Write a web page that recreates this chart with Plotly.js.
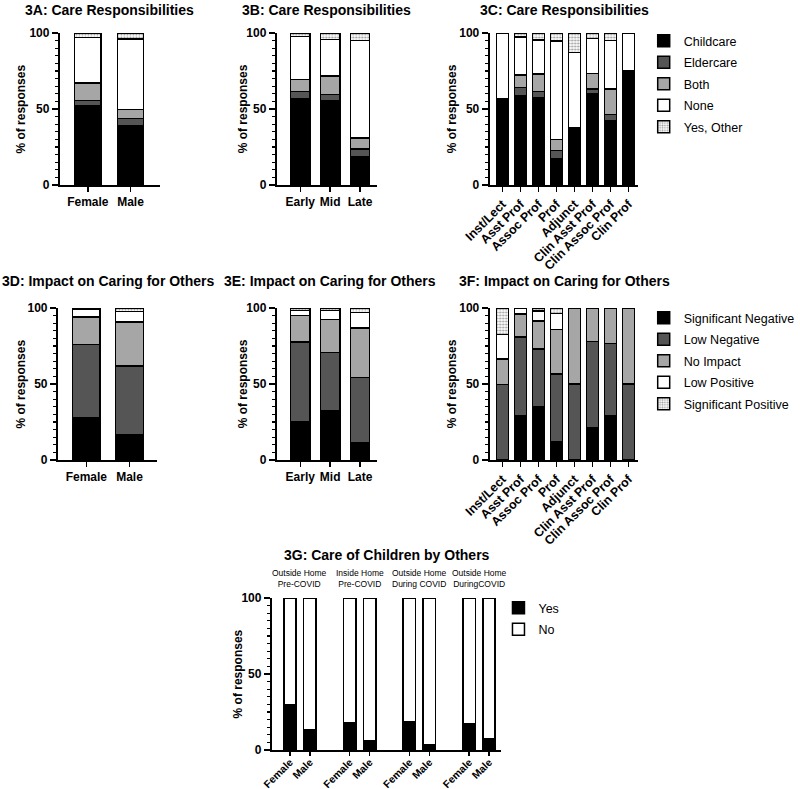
<!DOCTYPE html>
<html>
<head>
<meta charset="utf-8">
<script src="https://cdn.plot.ly/plotly-3.0.1.min.js"></script>
<style>
  body { margin: 0; background: #fff; }
  #chart { width: 800px; height: 789px; }
</style>
</head>
<body>
<div id="chart"></div>
<script>
// categories
var careNames = ['Childcare', 'Eldercare', 'Both', 'None', 'Yes, Other'];
var impactNames = ['Significant Negative', 'Low Negative', 'No Impact', 'Low Positive', 'Significant Positive'];
var sexCats = ['Female', 'Male'];
var stageCats = ['Early', 'Mid', 'Late'];
var rankCats = ['Inst/Lect', 'Asst Prof', 'Assoc Prof', 'Prof', 'Adjunct', 'Clin Asst Prof', 'Clin Assoc Prof', 'Clin Prof'];
var childGroups = ['Outside Home<br>Pre-COVID', 'Inside Home<br>Pre-COVID', 'Outside Home<br>During COVID', 'Outside Home<br>DuringCOVID'];

// % of responses, one row per series (bottom of the stack first)
var care3A = [
    [52, 39],
    [3.5, 4.6],
    [11.5, 6.2],
    [30, 46.2],
    [3, 4]
];
var care3B = [
    [57, 55.5, 18.6],
    [4.4, 4.1, 5.1],
    [7.9, 12.1, 7.3],
    [28.3, 23.9, 64],
    [2.4, 4.4, 5]
];
var care3C = [
    [57, 58.5, 57.7, 17.6, 37.5, 60, 42, 75],
    [0, 5.5, 3.9, 5, 0, 3, 4.5, 0],
    [0, 8.4, 11.4, 7.4, 0, 10.5, 16.5, 0],
    [43, 25, 22.4, 64.7, 49.8, 23, 32, 25],
    [0, 2.6, 4.6, 5.3, 12.7, 3.5, 5, 0]
];
var impact3D = [
    [28, 16.6],
    [48, 45.3],
    [18, 28.9],
    [5.2, 7],
    [0.8, 2.2]
];
var impact3E = [
    [25, 32.6, 11.3],
    [52.6, 38.1, 43],
    [17.4, 21.7, 32.7],
    [3.3, 5.9, 10.2],
    [1.7, 1.7, 2.8]
];
var impact3F = [
    [0, 29, 35, 12, 0, 21.2, 29, 0],
    [49.7, 52, 37.9, 44.5, 50, 56.9, 47.5, 50],
    [16.6, 15, 18.6, 29.5, 50, 21.9, 23.5, 50],
    [16.2, 4, 6.5, 10.5, 0, 0, 0, 0],
    [17.5, 0, 2, 3.5, 0, 0, 0, 0]
];
// 3G: bars in order Female, Male for each group
var childYes = [29.5, 13.1, 18.2, 6.1, 18.6, 3.3, 17.1, 7.7];
var childNo = [70.5, 86.9, 81.8, 93.9, 81.4, 96.7, 82.9, 92.3];

var FONT = 'Liberation Sans, Arial, Helvetica, sans-serif';
var W = 800, H = 789;
function px(x) { return x / W; }
function py(y) { return 1 - y / H; }

var fills = ['#000000', '#555555', '#a6a6a6', '#ffffff', '#ffffff'];
var dots = {shape: '.', fgcolor: '#9a9a9a', bgcolor: '#ffffff', size: 3, solidity: 0.4};

function stack(rows, names, cats, n, legendName, showLeg, w) {
    return rows.map(function (vals, i) {
        var marker = {color: fills[i], line: {color: 'black', width: 1.5}};
        if (i === 4) marker.pattern = dots;
        return {
            type: 'bar', x: cats,
            y: vals.map(function (v) { return v === 0 ? null : v; }),
            name: names[i], xaxis: 'x' + n, yaxis: 'y' + n, width: w,
            marker: marker, showlegend: showLeg, legend: legendName,
            legendgroup: legendName + '_' + i, cliponaxis: false, hoverinfo: 'skip'
        };
    });
}

var data = [].concat(
    stack(care3A, careNames, sexCats, '', 'legend', false, 0.62),
    stack(care3B, careNames, stageCats, '2', 'legend', false, 0.64),
    stack(care3C, careNames, rankCats, '3', 'legend', true, 0.65),
    stack(impact3D, impactNames, sexCats, '4', 'legend2', false, 0.64),
    stack(impact3E, impactNames, stageCats, '5', 'legend2', false, 0.64),
    stack(impact3F, impactNames, rankCats, '6', 'legend2', true, 0.65)
);

// 3G positions: three slots per group, Female then Male
var gPos = [], gText = [];
childGroups.forEach(function (g, gi) {
    sexCats.forEach(function (s, si) {
        gPos.push(gi * 3 + si);
        gText.push(s);
    });
});
data.push({
    type: 'bar', x: gPos, y: childYes, name: 'Yes', xaxis: 'x7', yaxis: 'y7', width: 0.62,
    marker: {color: '#000000', line: {color: 'black', width: 1.5}},
    legend: 'legend3', legendgroup: 'g0', cliponaxis: false, hoverinfo: 'skip'
});
data.push({
    type: 'bar', x: gPos, y: childNo, name: 'No', xaxis: 'x7', yaxis: 'y7', width: 0.62,
    marker: {color: '#ffffff', line: {color: 'black', width: 1.5}},
    legend: 'legend3', legendgroup: 'g1', cliponaxis: false, hoverinfo: 'skip'
});

function yAx(top, bottom, anchor) {
    return {
        domain: [py(bottom), py(top)], anchor: anchor, range: [0, 100],
        tickvals: [0, 50, 100], ticks: 'outside', ticklen: 6, tickwidth: 1.5, tickcolor: 'black',
        showline: true, linewidth: 2, linecolor: 'black', showgrid: false, zeroline: false,
        tickfont: {family: FONT, size: 12, weight: 'bold', color: 'black'},
        minor: {tick0: 0, dtick: 5, ticks: 'outside', ticklen: 3, tickwidth: 1.2, tickcolor: 'black', showgrid: false},
        fixedrange: true
    };
}

function xAx(left, right, anchor, range, angle, fsize, type) {
    return {
        domain: [px(left), px(right)], anchor: anchor, range: range, type: type || 'category',
        showline: true, linewidth: 2, linecolor: 'black', showgrid: false, zeroline: false,
        ticks: 'outside', ticklen: 5, tickwidth: 1.5, tickcolor: 'black', tickangle: angle,
        tickfont: {family: FONT, size: fsize, weight: 'bold', color: 'black'},
        fixedrange: true
    };
}

var xa7 = xAx(277, 511, 'y7', [-0.91, 10.62], -45, 10.5, 'linear');
xa7.tickvals = gPos;
xa7.ticktext = gText;
xa7.ticklen = 4;
xa7.ticklabelstandoff = -4;

function title(text, x, y, size) {
    return {
        text: text, x: px(x), y: py(y), xref: 'paper', yref: 'paper',
        xanchor: 'center', yanchor: 'middle', showarrow: false,
        font: {family: FONT, size: size || 14, weight: 'bold', color: 'black'}
    };
}
function yTitle(x, y) {
    var a = title('% of responses', x, y, 12);
    a.textangle = -90;
    return a;
}

var annotations = [
    title('3A: Care Responsibilities', 112, 10),
    title('3B: Care Responsibilities', 333, 10),
    title('3C: Care Responsibilities', 575, 10),
    title('3D: Impact on Caring for Others', 111, 281),
    title('3E: Impact on Caring for Others', 336, 281),
    title('3F: Impact on Caring for Others', 575, 281),
    title('3G: Care of Children by Others', 394, 555),
    yTitle(21, 109), yTitle(248, 109), yTitle(461, 109),
    yTitle(21, 384), yTitle(248, 384), yTitle(461, 384),
    yTitle(243, 674)
];
childGroups.forEach(function (g, gi) {
    annotations.push({
        text: g, x: gi * 3 + 0.5, y: py(578), xref: 'x7', yref: 'paper',
        xanchor: 'center', yanchor: 'middle', showarrow: false,
        font: {family: FONT, size: 8.5, color: 'black'}
    });
});

function legendAt(x, y) {
    return {
        x: px(x), y: py(y), xanchor: 'left', yanchor: 'top',
        font: {family: FONT, size: 12.5, color: 'black'},
        traceorder: 'grouped', tracegroupgap: 2.25, bgcolor: 'rgba(0,0,0,0)'
    };
}

var layout = {
    width: W, height: H,
    margin: {l: 0, r: 0, t: 0, b: 0},
    paper_bgcolor: 'white', plot_bgcolor: 'white',
    barmode: 'stack', showlegend: true, hovermode: false,
    font: {family: FONT, color: 'black'},
    xaxis: xAx(61, 163, 'y', [-0.655, 1.69], 0, 12),
    yaxis: yAx(33, 185, 'x'),
    xaxis2: xAx(282, 384, 'y2', [-0.787, 2.557], 0, 12),
    yaxis2: yAx(33, 185, 'x2'),
    xaxis3: xAx(499, 650, 'y3', [-0.708, 7.516], -45, 12.5),
    yaxis3: yAx(33, 185, 'x3'),
    xaxis4: xAx(59, 160, 'y4', [-0.659, 1.636], 0, 12),
    yaxis4: yAx(308, 460, 'x4'),
    xaxis5: xAx(282, 384, 'y5', [-0.787, 2.557], 0, 12),
    yaxis5: yAx(308, 460, 'x5'),
    xaxis6: xAx(499, 650, 'y6', [-0.708, 7.516], -45, 12.5),
    yaxis6: yAx(308, 460, 'x6'),
    xaxis7: xa7,
    yaxis7: yAx(598, 750, 'x7'),
    legend: legendAt(656, 26),
    legend2: legendAt(656, 303),
    legend3: legendAt(508, 593),
    annotations: annotations
};

Plotly.newPlot('chart', data, layout, {displayModeBar: false, staticPlot: true});
</script>
</body>
</html>
